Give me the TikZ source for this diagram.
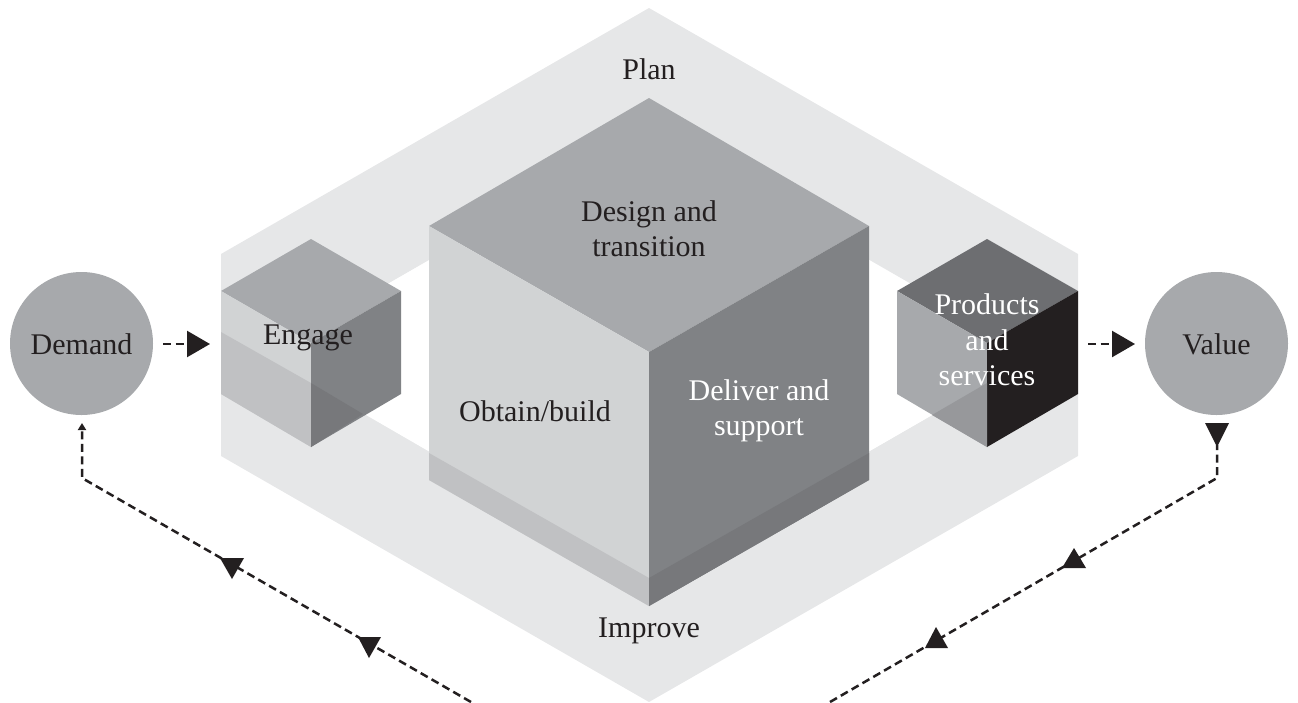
\documentclass[tikz,border=0pt]{standalone}
\usepackage{fontspec}
\setmainfont{Liberation Serif}
\usetikzlibrary{arrows.meta}
\definecolor{band}{HTML}{E6E7E8}
\definecolor{gA}{HTML}{A7A9AC}
\definecolor{gL}{HTML}{D1D3D4}
\definecolor{gLd}{HTML}{C0C1C3}
\definecolor{gR}{HTML}{808285}
\definecolor{gRd}{HTML}{77787B}
\definecolor{gT}{HTML}{6D6E71}
\definecolor{gPd}{HTML}{97989B}
\definecolor{ink}{HTML}{231F20}
\tikzset{
  lbl/.style={font=\fontsize{30pt}{35.5pt}\selectfont,text=ink,align=center,inner sep=0pt},
  wlbl/.style={lbl,text=white},
  circ/.style={circle,fill=gA,minimum size=143pt,inner sep=0pt},
  flow/.style={draw=ink,line width=2.5pt,dash pattern=on 8pt off 4.5pt},
  bigtip/.style={-{Triangle[length=23pt,width=26pt,fill=ink]}}
}
\begin{document}
\begin{tikzpicture}[x=1pt,y=-1pt]
\useasboundingbox (0,0) rectangle (1298,702);
% Plan / Improve band
\fill[band,even odd rule] (649,8)--(1078,254)--(1078,456)--(649,702)--(221,456)--(221,254)--cycle
  (649,133)--(1078,380)--(1078,331)--(649,578)--(221,331)--(221,380)--cycle;
\fill[white] (649,133)--(868,260)--(868,452)--(649,578)--(430,452)--(430,260)--cycle;
\fill[white] (430,260)--(311,328)--(221,331)--(430,452)--cycle;
\fill[white] (868,260)--(987,328)--(1078,331)--(868,452)--cycle;
% Engage cube
\fill[gA] (311,239)--(401,291)--(311,343)--(221,291)--cycle;
\fill[gL] (221,291)--(311,343)--(311,447)--(221,394)--cycle;
\fill[gR] (401,291)--(311,343)--(311,447)--(401,394)--cycle;
\fill[gLd] (221,332)--(311,383)--(311,447)--(221,394)--cycle;
\fill[gRd] (311,383)--(363,414)--(311,447)--cycle;
% Products cube
\fill[gT] (987,239)--(1078,291)--(987,343)--(897,291)--cycle;
\fill[gA] (897,291)--(987,343)--(987,447)--(897,394)--cycle;
\fill[ink] (1078,291)--(987,343)--(987,447)--(1078,394)--cycle;
\fill[gPd] (987,383)--(932,415)--(987,447)--cycle;
% Central cube
\fill[gA] (649,98)--(869,226)--(649,352)--(429,226)--cycle;
\fill[gL] (429,226)--(649,352)--(649,606)--(429,480)--cycle;
\fill[gR] (869,226)--(649,352)--(649,606)--(869,480)--cycle;
\fill[gLd] (429,453)--(649,578)--(649,606)--(429,480)--cycle;
\fill[gRd] (869,453)--(649,578)--(649,606)--(869,480)--cycle;
% Labels
\node[lbl] (plan) at (649,69) {Plan};
\node[lbl] (improve) at (649,631) {Improve};
\node[lbl] (design) at (649,228.5) {Design and\\transition};
\node[lbl] (obtain) at (535,411) {Obtain/build};
\node[wlbl] (deliver) at (759,411) {Deliver and\\support};
\node[lbl] (engage) at (308,338) {Engage};
\node[wlbl] (products) at (987,340) {Products\\and\\services};
% Circles
\node[circ] (demand) at (81.5,343.5) {};
\node[lbl] at (81.5,344.5) {Demand};
\node[circ] (value) at (1216.5,343.5) {};
\node[lbl] at (1216.5,344.5) {Value};
% Flows
\coordinate (eIn) at (210,344);
\coordinate (pOut) at (1135,344);
\coordinate (pStart) at (1088,344);
\coordinate (dStart) at (163,344);
\draw[flow,bigtip] (dStart)--(eIn);
\draw[flow,bigtip] (pStart)--(pOut);
\coordinate (lFree) at (471,702);
\coordinate (lBend) at (82,478);
\coordinate (lEnd) at (82,423);
\draw[flow,-{Triangle[length=7pt,width=8pt,fill=ink]}] (lFree)--(lBend)--(lEnd);
\coordinate (rFree) at (830,702);
\coordinate (rBend) at (1217,478);
\coordinate (rEnd) at (1217,445);
\draw[flow] (rFree)--(rBend)--(rEnd);
\fill[ink] (1205,423)--(1229,423)--(1217,447)--cycle;
\fill[ink] (220,558)--(244,558)--(232,579)--cycle;
\fill[ink] (358,637)--(381,637)--(369,658)--cycle;
\fill[ink] (1062,568)--(1086,568)--(1074,548)--cycle;
\fill[ink] (925,648)--(948,648)--(936,627)--cycle;
\end{tikzpicture}
\end{document}
